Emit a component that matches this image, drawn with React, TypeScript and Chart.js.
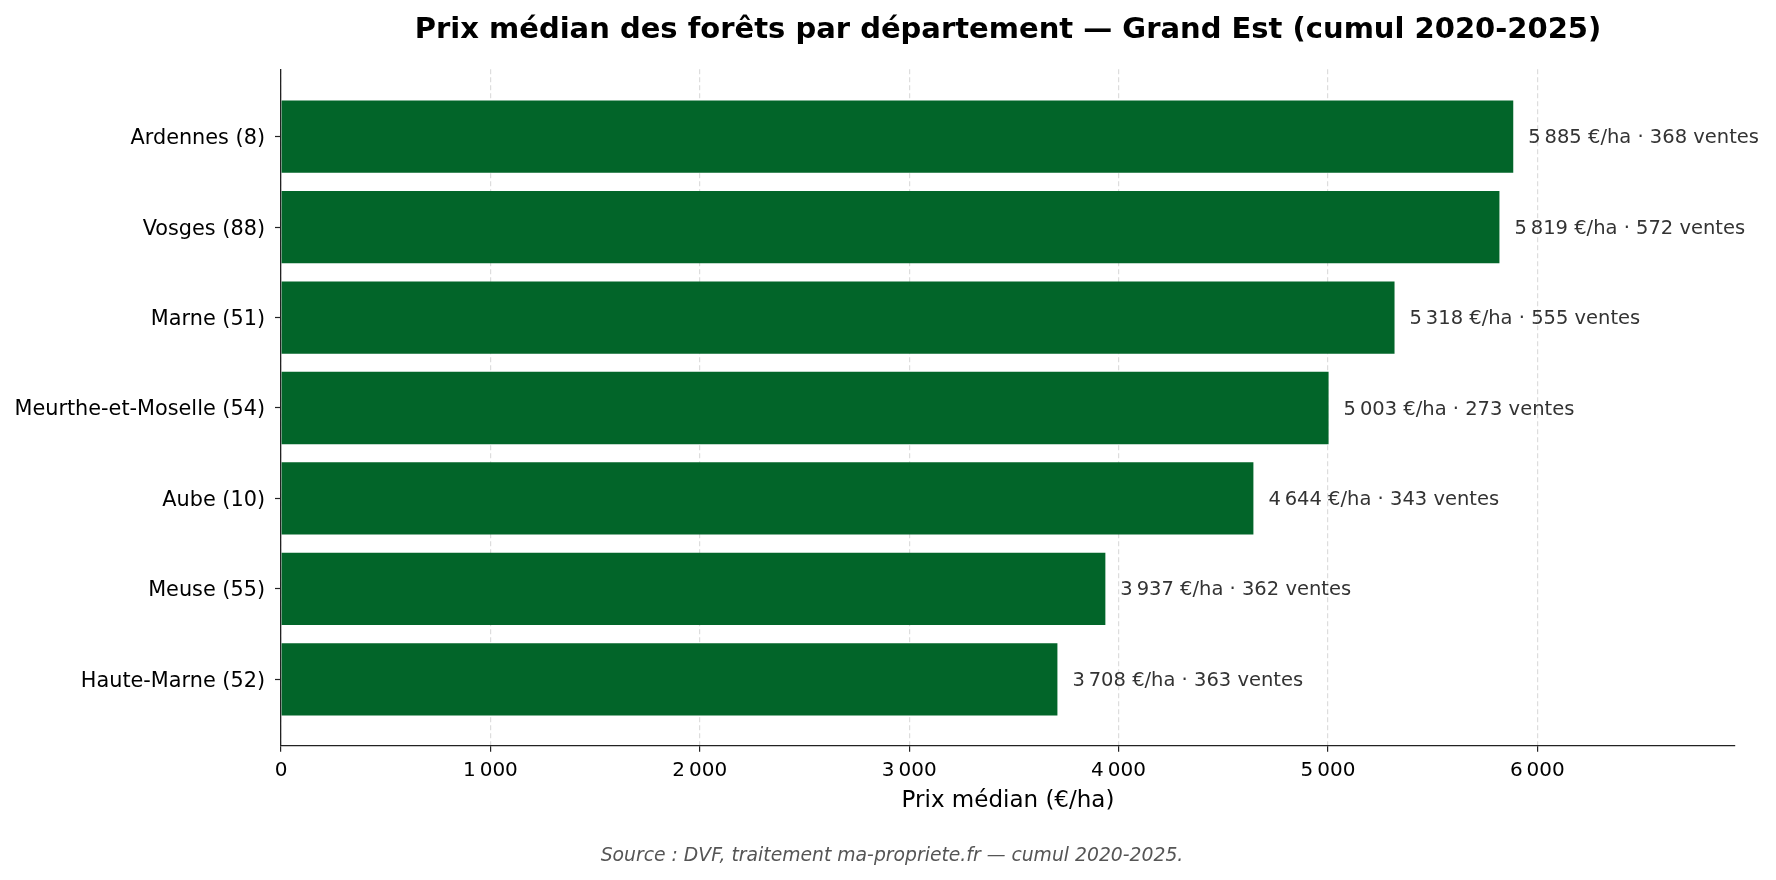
import React, { useEffect, useRef } from "react";
import { Chart, registerables } from "chart.js";

Chart.register(...registerables);

const departments = [
  "Ardennes (8)",
  "Vosges (88)",
  "Marne (51)",
  "Meurthe-et-Moselle (54)",
  "Aube (10)",
  "Meuse (55)",
  "Haute-Marne (52)",
];
const medianPrices = [5885, 5819, 5318, 5003, 4644, 3937, 3708];
const salesCounts = [368, 572, 555, 273, 343, 362, 363];
const xTickValues = [0, 1000, 2000, 3000, 4000, 5000, 6000];
const sourceText = "Source : DVF, traitement ma-propriete.fr — cumul 2020-2025.";

const fmt = (n: number) => {
  const s = Math.round(n).toString();
  return s.replace(/\B(?=(\d{3})+(?!\d))/g, "\u202f");
};

const FONT = "'DejaVu Sans', sans-serif";

const valueLabels = {
  id: "valueLabels",
  afterDatasetsDraw(chart: any) {
    const ctx = chart.ctx;
    const meta = chart.getDatasetMeta(0);
    ctx.save();
    ctx.font = `19.5px ${FONT}`;
    ctx.fillStyle = "#333333";
    ctx.textAlign = "left";
    ctx.textBaseline = "middle";
    meta.data.forEach((bar: any, i: number) => {
      const label = `${fmt(medianPrices[i])} €/ha · ${salesCounts[i]} ventes`;
      ctx.fillText(label, bar.x + 15, bar.y + 1.5);
    });
    ctx.restore();
  },
};

const sourceNote = {
  id: "sourceNote",
  afterDraw(chart: any) {
    const ctx = chart.ctx;
    ctx.save();
    ctx.font = `italic 18.8px ${FONT}`;
    ctx.fillStyle = "#555555";
    ctx.textAlign = "center";
    ctx.textBaseline = "middle";
    ctx.fillText(sourceText, chart.width / 2 + 4, 856);
    ctx.restore();
  },
};

export default function App() {
  const ref = useRef<HTMLCanvasElement>(null);
  useEffect(() => {
    if (!ref.current) return;
    const chart = new Chart(ref.current, {
      type: "bar",
      data: {
        datasets: [
          {
            data: medianPrices.map((v, i) => ({ x: v, y: i })),
            backgroundColor: "#026529",
            borderWidth: 0,
            barPercentage: 0.8,
            categoryPercentage: 1,
          },
        ],
      },
      options: {
        indexAxis: "y",
        responsive: false,
        animation: false,
        layout: { padding: { left: 0, right: 41, top: 0, bottom: 0 } },
        plugins: {
          legend: { display: false },
          tooltip: { enabled: false },
          title: {
            display: true,
            fullSize: false,
            text: "Prix médian des forêts par département — Grand Est (cumul 2020-2025)",
            color: "#000",
            font: { family: FONT, size: 29, weight: "bold" },
            padding: { top: 13.5, bottom: 21 },
          },
        },
        scales: {
          x: {
            type: "linear",
            min: 0,
            max: 6944,
            afterBuildTicks: (s: any) => {
              s.ticks = xTickValues.map((v) => ({ value: v }));
            },
            afterFit: (s: any) => {
              s.height = 134.3;
            },
            ticks: {
              callback: (v: any) => fmt(Number(v)),
              color: "#000",
              font: { family: FONT, size: 20 },
              padding: 7,
            },
            grid: {
              color: "#dddddd",
              lineWidth: 1.2,
              tickColor: "#222",
              tickLength: 6,
              tickWidth: 1.2,
            },
            border: { color: "#222", width: 1.3, dash: [5, 3] },
            title: {
              display: true,
              text: "Prix médian (€/ha)",
              color: "#000",
              font: { family: FONT, size: 23 },
              padding: { top: 0, bottom: 65 },
            },
          },
          y: {
            type: "linear",
            reverse: true,
            offset: false,
            min: -0.745,
            max: 6.734,
            afterBuildTicks: (s: any) => {
              s.ticks = departments.map((_, i) => ({ value: i }));
            },
            afterFit: (s: any) => {
              s.width = 281;
            },
            ticks: {
              callback: (v: any) => departments[Number(v)] ?? "",
              color: "#000",
              font: { family: FONT, size: 20.8 },
              padding: 10,
              labelOffset: 2,
            },
            grid: {
              offset: false,
              drawOnChartArea: false,
              tickColor: "#222",
              tickLength: 6,
              tickWidth: 1.2,
            },
            border: { color: "#222", width: 1.3 },
          },
        },
      },
      plugins: [valueLabels, sourceNote],
    } as any);
    return () => chart.destroy();
  }, []);
  return (
    <div style={{ position: "fixed", left: 0, top: 0, background: "#fff" }}>
      <canvas ref={ref} width={1776} height={880} style={{ width: 1776, height: 880, display: "block" }} />
    </div>
  );
}
